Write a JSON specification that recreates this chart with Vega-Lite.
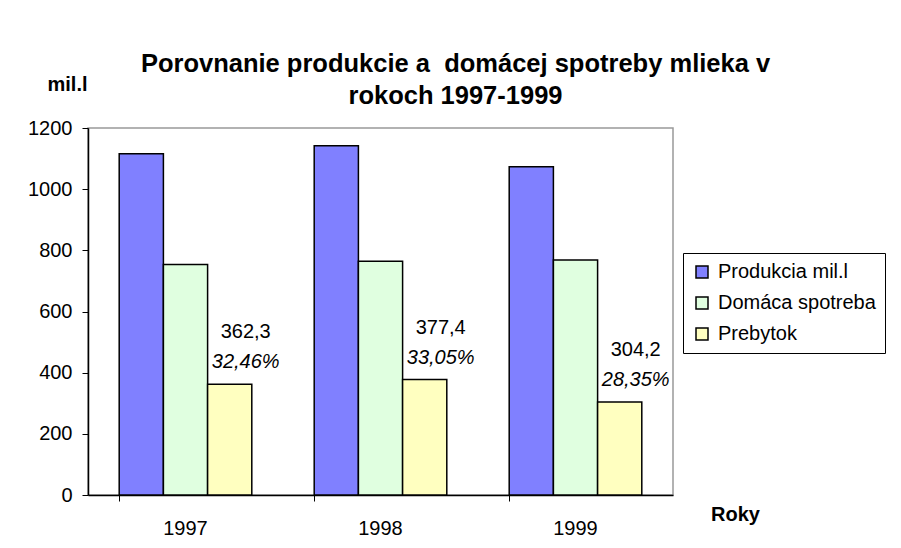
{
  "$schema": "https://vega.github.io/schema/vega-lite/v6.json",
  "width": 585,
  "height": 367,
  "autosize": {"type": "none"},
  "padding": {"left": 88, "top": 128, "right": 228, "bottom": 53},
  "background": "white",
  "config": {
    "font": "Liberation Sans",
    "view": {"stroke": "#999999", "strokeWidth": 1.5}
  },
  "title": {
    "text": ["Porovnanie produkcie a\u00a0 domácej spotreby mlieka v", "rokoch 1997-1999"],
    "fontSize": 25.5,
    "fontWeight": "bold",
    "font": "Liberation Sans",
    "color": "black",
    "anchor": "middle",
    "dx": 75,
    "dy": 57,
    "offset": 22,
    "lineHeight": 32
  },
  "data": {
    "values": [
      {"rok": "1997", "seria": "Produkcia mil.l", "hodnota": 1116.1, "lbl": "", "pct": ""},
      {"rok": "1997", "seria": "Domáca spotreba", "hodnota": 753.8, "lbl": "", "pct": ""},
      {"rok": "1997", "seria": "Prebytok", "hodnota": 362.3, "lbl": "362,3", "pct": "32,46%"},
      {"rok": "1998", "seria": "Produkcia mil.l", "hodnota": 1141.9, "lbl": "", "pct": ""},
      {"rok": "1998", "seria": "Domáca spotreba", "hodnota": 764.5, "lbl": "", "pct": ""},
      {"rok": "1998", "seria": "Prebytok", "hodnota": 377.4, "lbl": "377,4", "pct": "33,05%"},
      {"rok": "1999", "seria": "Produkcia mil.l", "hodnota": 1073.0, "lbl": "", "pct": ""},
      {"rok": "1999", "seria": "Domáca spotreba", "hodnota": 768.8, "lbl": "", "pct": ""},
      {"rok": "1999", "seria": "Prebytok", "hodnota": 304.2, "lbl": "304,2", "pct": "28,35%"}
    ]
  },
  "encoding": {
    "x": {
      "field": "rok",
      "type": "nominal",
      "scale": {"paddingInner": 0.32, "paddingOuter": 0.16},
      "axis": {
        "title": "Roky",
        "titleFontSize": 20,
        "titleFontWeight": "bold",
        "titleColor": "black",
        "titleX": 647,
        "titleY": 19,
        "titleAlign": "center",
        "titleBaseline": "middle",
        "labelAngle": 0,
        "labelFontSize": 20,
        "labelColor": "black",
        "labelPadding": 17,
        "tickSize": 6,
        "tickColor": "black",
        "domainColor": "black",
        "domainWidth": 1.5,
        "bandPosition": 0,
        "grid": false
      }
    },
    "xOffset": {
      "field": "seria",
      "type": "nominal",
      "sort": ["Produkcia mil.l", "Domáca spotreba", "Prebytok"],
      "scale": {"paddingInner": 0, "paddingOuter": 0}
    },
    "y": {
      "field": "hodnota",
      "type": "quantitative",
      "scale": {"domain": [0, 1200], "nice": false},
      "axis": {
        "title": "mil.l",
        "titleFontSize": 20,
        "titleFontWeight": "bold",
        "titleColor": "black",
        "titleAngle": 0,
        "titleX": -21,
        "titleY": -44,
        "titleAlign": "center",
        "titleBaseline": "middle",
        "values": [0, 200, 400, 600, 800, 1000, 1200],
        "format": "d",
        "labelFontSize": 20,
        "labelColor": "black",
        "labelPadding": 10,
        "tickSize": 6,
        "tickColor": "black",
        "domainColor": "black",
        "domainWidth": 1.5,
        "grid": false
      }
    }
  },
  "layer": [
    {
      "mark": {"type": "bar", "stroke": "black", "strokeWidth": 1.5},
      "encoding": {
        "color": {
          "field": "seria",
          "type": "nominal",
          "sort": ["Produkcia mil.l", "Domáca spotreba", "Prebytok"],
          "scale": {
            "domain": ["Produkcia mil.l", "Domáca spotreba", "Prebytok"],
            "range": ["#8080FF", "#E0FFE0", "#FFFFC0"]
          },
          "legend": {
            "title": null,
            "orient": "none",
            "legendX": 595,
            "legendY": 125,
            "direction": "vertical",
            "strokeColor": "black",
            "fillColor": "white",
            "padding": 9,
            "symbolType": "square",
            "symbolSize": 144,
            "symbolStrokeColor": "black",
            "symbolStrokeWidth": 1.5,
            "symbolOpacity": 1,
            "labelFontSize": 20,
            "labelColor": "black",
            "labelOffset": 6,
            "rowPadding": 11,
            "labelLimit": 300
          }
        }
      }
    },
    {
      "transform": [{"filter": "datum.lbl != ''"}],
      "mark": {"type": "text", "fontSize": 20, "color": "black", "dx": 16, "dy": -52, "baseline": "middle"},
      "encoding": {"text": {"field": "lbl"}}
    },
    {
      "transform": [{"filter": "datum.pct != ''"}],
      "mark": {"type": "text", "fontSize": 20, "fontStyle": "italic", "color": "black", "dx": 16, "dy": -22, "baseline": "middle"},
      "encoding": {"text": {"field": "pct"}}
    }
  ]
}
